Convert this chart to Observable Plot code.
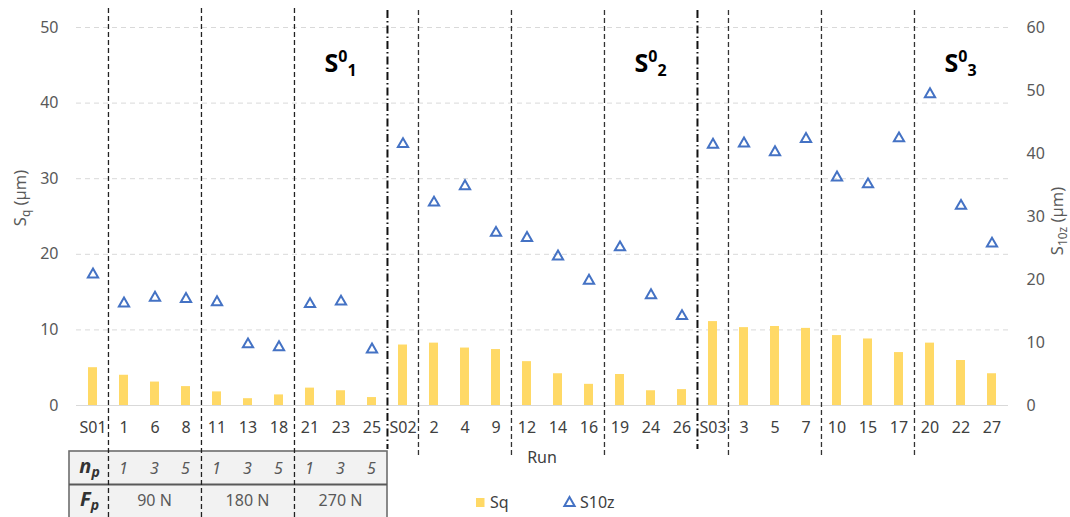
<!DOCTYPE html>
<html><head><meta charset="utf-8">
<script src="https://cdn.jsdelivr.net/npm/d3@7"></script>
<script src="https://cdn.jsdelivr.net/npm/@observablehq/plot@0.6"></script>
<style>body{margin:0;background:#fff;} #chart{width:1070px;height:517px;}</style>
</head><body><div id="chart"></div>
<script>
const runs = ["S01","1","6","8","11","13","18","21","23","25","S02","2","4","9","12","14","16","19","24","26","S03","3","5","7","10","15","17","20","22","27"];
const sq = [5.0,4.0,3.1,2.5,1.8,0.9,1.4,2.3,1.95,1.05,8.0,8.25,7.6,7.4,5.8,4.2,2.8,4.1,1.95,2.1,11.1,10.3,10.45,10.2,9.25,8.8,7.0,8.25,5.95,4.2];
const s10z = [20.8,16.2,17.1,16.9,16.4,9.7,9.25,16.1,16.5,8.9,41.5,32.2,34.8,27.4,26.6,23.65,19.8,25.1,17.5,14.2,41.4,41.6,40.2,42.3,36.2,35.1,42.4,49.4,31.7,25.7];
const leftTicks = [0,10,20,30,40,50];
const rightTicks = [0,10,20,30,40,50,60];
const longDashed = ["1","11","21"];
const shortDashed = ["2","12","19","3","10","20"];
const dashDot = ["S02","S03"];
const sectionAt = ["23","24","22"];
const sectionSub = ["1","2","3"];
const npRuns = ["1","6","8","11","13","18","21","23","25"];
const npValues = ["1","3","5","1","3","5","1","3","5"];
const fpLabels = ["90 N","180 N","270 N"];
const fpFirst = ["1","11","21"];
const fpLast = ["8","18","25"];

const W=1070,H=517,mL=76,mR=62,mT=27,mB=112;
const step=(W-mL-mR)/runs.length;
const k = 50/60;
const data = runs.map((r,i)=>({run:r, sq:sq[i], s10z:s10z[i]}));
const FONT = "'Noto Sans', 'Open Sans', sans-serif";

const plot = Plot.plot({
  width:W, height:H, marginLeft:mL, marginRight:mR, marginTop:mT, marginBottom:mB,
  style:{fontFamily:FONT, fontSize:"16px", color:"#595959", background:"#fff", overflow:"visible"},
  x:{type:"band", domain:runs, paddingInner:0.7, paddingOuter:0.35, align:0.5},
  y:{domain:[0,50]},
  marks:[
    Plot.gridY(leftTicks.slice(1), {stroke:"#d9d9d9", strokeOpacity:1, strokeDasharray:"5,4"}),
    Plot.ruleY([0], {stroke:"#d9d9d9", strokeWidth:1.2}),
    Plot.barY(data, {x:"run", y:"sq", fill:"#FFD966"}),
    Plot.ruleX(longDashed, {x:d=>d, dx:-step/2, stroke:"#222", strokeWidth:1.3, strokeDasharray:"5,3", insetTop:-19, insetBottom:-112}),
    Plot.ruleX(shortDashed, {x:d=>d, dx:-step/2, stroke:"#333", strokeWidth:1.3, strokeDasharray:"5,3", insetTop:-17, insetBottom:-53}),
    Plot.ruleX(dashDot, {x:d=>d, dx:-step/2, stroke:"#111", strokeWidth:2, strokeDasharray:"8,3,1.5,3", insetTop:-17, insetBottom:-44}),
    Plot.dot(data, {x:"run", y:d=>d.s10z*k, symbol:"triangle", r:3.8, stroke:"#4472C4", strokeWidth:2, fill:"none"}),
    Plot.axisY(leftTicks, {anchor:"left", tickSize:0, tickPadding:18, label:null, fontSize:16}),
    Plot.axisY(rightTicks.map(v=>v*k), {anchor:"right", tickSize:0, tickPadding:18, label:null, fontSize:16, tickFormat:d=>Math.round(d/k)}),
    Plot.axisX({tickSize:0, tickPadding:16, label:null, fontSize:16, color:"#404040"})
  ]
});

const svg = d3.select(plot);
const x = plot.scale("x");
const cx = r => x.apply(r) + x.bandwidth/2;
const bnd = r => cx(r) - x.step/2;

// table (under the marks)
const tg = svg.insert("g", "g");
const tLeft = mL - 7, tTop = 451, tRight = bnd("S02");
tg.append("rect").attr("x", tLeft).attr("y", tTop).attr("width", tRight - tLeft).attr("height", 90)
  .attr("fill", "#f2f2f2").attr("stroke", "#6d6d6d").attr("stroke-width", 1.6);
tg.append("line").attr("x1", tLeft).attr("x2", tRight).attr("y1", 484.5).attr("y2", 484.5)
  .attr("stroke", "#595959").attr("stroke-width", 2);
const colC = (tLeft + bnd("1")) / 2 + 1;
function subLabel(g, xx, yy, main, sub){
  const t = g.append("text").attr("x", xx).attr("y", yy).attr("text-anchor","middle")
    .attr("font-family", FONT).attr("font-weight","bold").attr("font-style","italic").attr("fill","#333");
  t.append("tspan").attr("font-size", 20).text(main);
  t.append("tspan").attr("font-size", 14).attr("dy", 4).text(sub);
}
subLabel(tg, colC, 473, "n", "p");
subLabel(tg, colC, 506, "F", "p");
npRuns.forEach((r,i)=>{
  tg.append("text").attr("x", cx(r)).attr("y", 474).attr("text-anchor","middle")
    .attr("font-family", FONT).attr("font-style","italic").attr("font-size",16).attr("fill","#595959").text(npValues[i]);
});
fpLabels.forEach((l,i)=>{
  tg.append("text").attr("x", (cx(fpFirst[i]) + cx(fpLast[i]))/2).attr("y", 506).attr("text-anchor","middle")
    .attr("font-family", FONT).attr("font-size",16).attr("fill","#595959").text(l);
});

// overlays
const og = svg.append("g");
sectionAt.forEach((r,i)=>{
  const t = og.append("text").attr("x", cx(r)).attr("y", 72).attr("text-anchor","middle")
    .attr("font-family", FONT).attr("font-weight","bold").attr("fill","#000");
  t.append("tspan").attr("font-size", 25).text("S");
  t.append("tspan").attr("font-size", 16).attr("dy", -10).text("0");
  t.append("tspan").attr("font-size", 16).attr("dy", 14).text(sectionSub[i]);
});
function axisTitle(xx, yy, sub){
  const t = og.append("text").attr("transform", `translate(${xx},${yy}) rotate(-90)`).attr("text-anchor","middle")
    .attr("font-family", FONT).attr("font-size", 16.5).attr("fill","#595959");
  t.append("tspan").text("S");
  t.append("tspan").attr("font-size", 12).attr("dy", 4).text(sub);
  t.append("tspan").attr("dy", -4).text(" (µm)");
}
axisTitle(26, 198, "q");
axisTitle(1063, 221, "10z");
og.append("text").attr("x", (mL + W - mR)/2).attr("y", 463).attr("text-anchor","middle")
  .attr("font-family", FONT).attr("font-size", 16).attr("fill","#404040").text("Run");
// legend
og.append("rect").attr("x", 476).attr("y", 498).attr("width", 8.5).attr("height", 9).attr("fill", "#FFD966");
og.append("text").attr("x", 490).attr("y", 508).attr("text-anchor","start").attr("font-family", FONT).attr("font-size", 16).attr("fill","#404040").text("Sq");
og.append("path").attr("transform","translate(569.5,503)").attr("d", d3.symbol(d3.symbolTriangle, Math.PI*3.8*3.8)())
  .attr("fill","none").attr("stroke","#4472C4").attr("stroke-width",2);
og.append("text").attr("x", 580).attr("y", 508).attr("text-anchor","start").attr("font-family", FONT).attr("font-size", 16).attr("fill","#404040").text("S10z");

document.getElementById("chart").appendChild(plot);
</script>
</body></html>
